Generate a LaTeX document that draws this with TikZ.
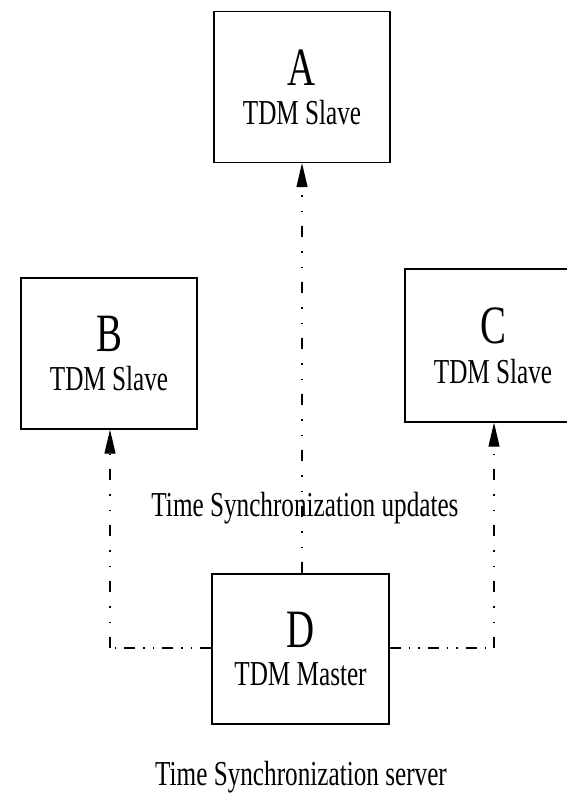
\documentclass[tikz,border=0pt]{standalone}
\usepackage{fontspec}
\setmainfont[FakeStretch=0.72]{Liberation Serif}
\usetikzlibrary{arrows.meta}
\begin{document}
\begin{tikzpicture}[x=1pt,y=-1pt,
  unit/.style={draw, line width=1.3pt, inner sep=0pt, align=center,
    minimum width=#1, minimum height=151pt},
  unit/.default=176pt,
  syncv/.style={line width=1.1pt,
    dash pattern=on 11pt off 14pt on 1.5pt off 14pt on 1.5pt off 14pt},
  synch/.style={line width=1.1pt,
    dash pattern=on 11pt off 8pt on 1.5pt off 8pt on 1.5pt off 8pt},
  tip/.style={-{Triangle[length=24pt,width=11pt]}},
  caption/.style={font=\fontsize{35}{35}\selectfont, inner sep=0pt}]
  \useasboundingbox (0,0) rectangle (566,797);

  % slave and master boxes
  \node[unit] (A) at (302,87) {{\fontsize{54}{54}\selectfont A}\\[14pt]{\fontsize{35}{35}\selectfont TDM Slave}};
  \node[unit] (B) at (109,353.5) {{\fontsize{54}{54}\selectfont B}\\[14pt]{\fontsize{35}{35}\selectfont TDM Slave}};
  \node[unit, minimum height=153pt] (C) at (493,345.5) {{\fontsize{54}{54}\selectfont C}\\[14pt]{\fontsize{35}{35}\selectfont TDM Slave}};
  \node[unit=177pt, minimum height=150pt] (D) at (300.5,649) {{\fontsize{54}{54}\selectfont D}\\[14pt]{\fontsize{35}{35}\selectfont TDM Master}};

  % corner points of the side links
  \coordinate (bl) at (110,648);
  \coordinate (cr) at (494,648);

  % synchronization links from the master
  \draw[syncv, tip] (D.north -| A.south) -- (A.south);
  \draw[synch] (D.west |- bl) -- (bl);
  \draw[syncv, tip] (bl) -- (bl |- B.south);
  \draw[synch] (D.east |- cr) -- (cr);
  \draw[syncv, tip] (cr) -- (cr |- C.south);

  % captions
  \node[caption] (upd) at (305,508) {Time Synchronization updates};
  \node[caption] (srv) at (301,777) {Time Synchronization server};
\end{tikzpicture}
\end{document}
